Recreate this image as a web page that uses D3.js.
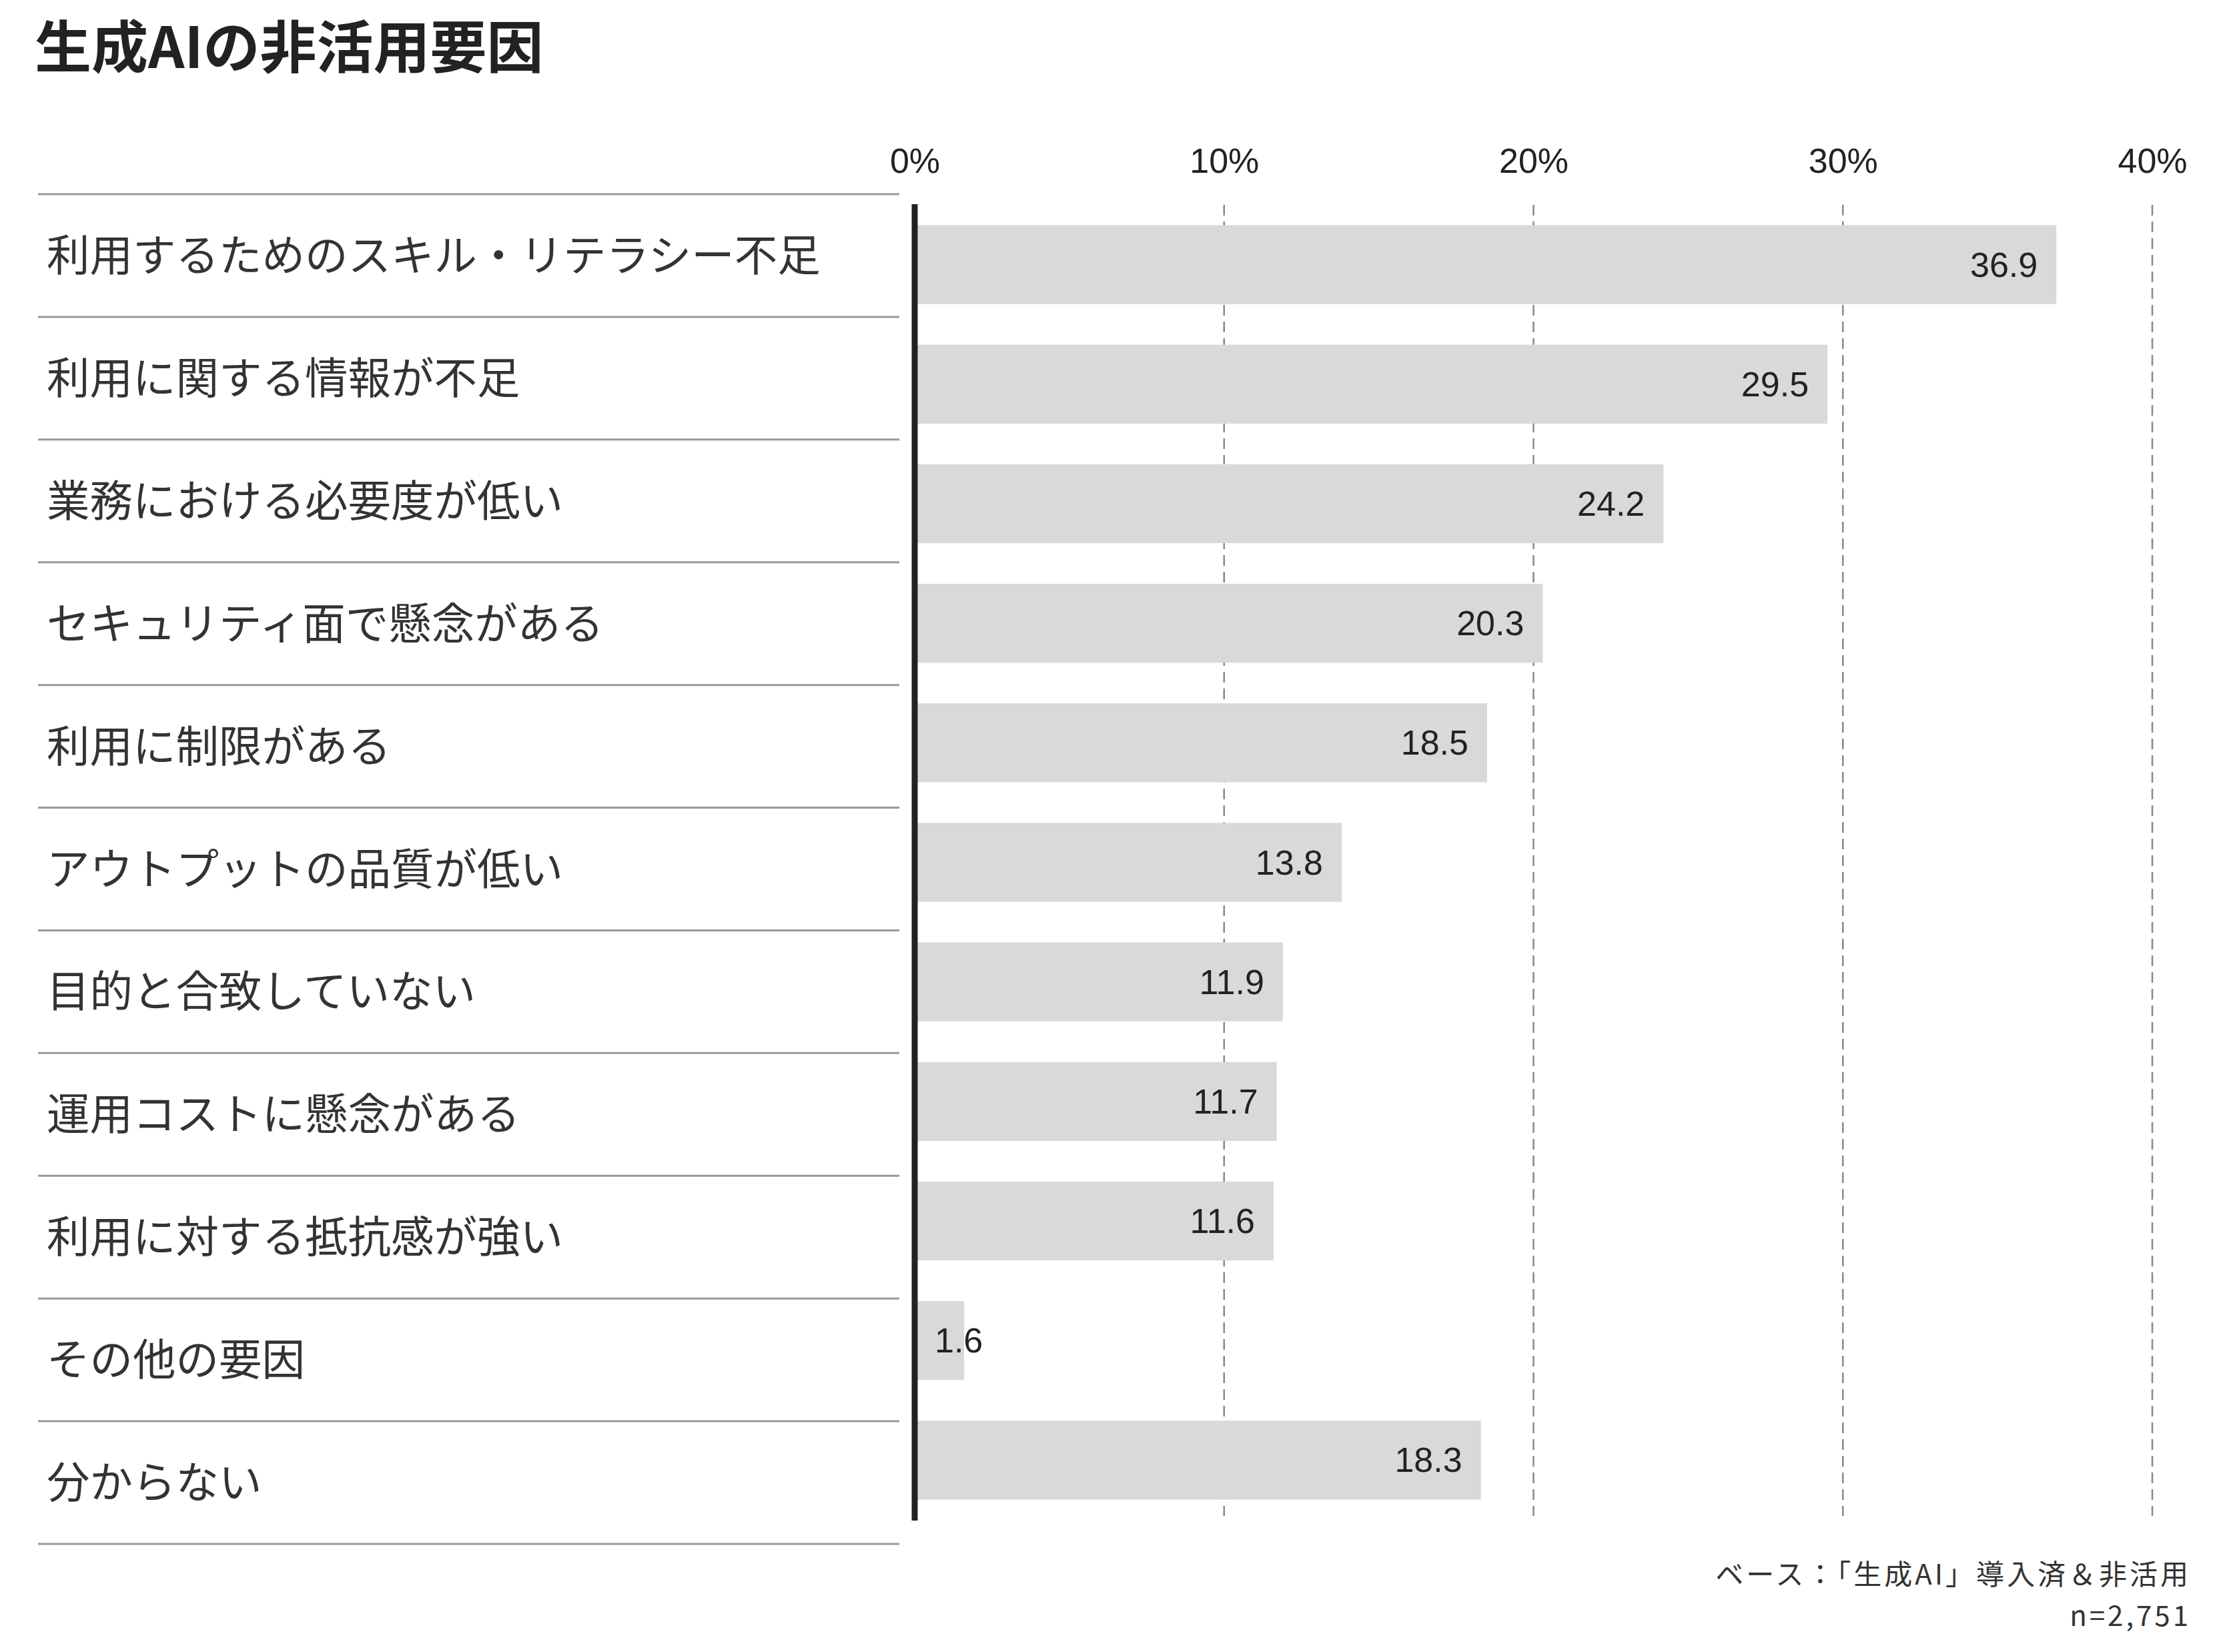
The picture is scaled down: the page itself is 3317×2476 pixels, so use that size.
<!DOCTYPE html>
<html>
<head>
<meta charset="utf-8">
<script src="https://cdn.jsdelivr.net/npm/d3@7"></script>
<style>
  body { margin: 0; background: #fff; }
  svg { display: block; }
</style>
</head>
<body>
<svg width="3317" height="2476"></svg>
<script>
// data
const categories = [
    '利用するためのスキル・リテラシー不足',
    '利用に関する情報が不足',
    '業務における必要度が低い',
    'セキュリティ面で懸念がある',
    '利用に制限がある',
    'アウトプットの品質が低い',
    '目的と合致していない',
    '運用コストに懸念がある',
    '利用に対する抵抗感が強い',
    'その他の要因',
    '分からない'
];
const values = [36.9, 29.5, 24.2, 20.3, 18.5, 13.8, 11.9, 11.7, 11.6, 1.6, 18.3];
const ticks = [0, 10, 20, 30, 40];
const title = '生成AIの非活用要因';
const notes = ['ベース：「生成AI」導入済＆非活用', 'n=2,751'];

const jp = '"Noto Sans CJK JP", "Noto Sans", sans-serif';
const num = '"Liberation Sans", Arial, sans-serif';

const svg = d3.select('svg');

svg.append('rect')
    .attr('width', 3317)
    .attr('height', 2476)
    .attr('fill', '#fff');

// scales
const x = d3.scaleLinear().domain([0, 40]).range([1371, 3226]);
const rows = d3.scaleBand().domain(categories).range([291, 2314]);
const y = d3.scaleBand().domain(categories).range([307, 2278])
    .paddingInner(0.34)
    .paddingOuter(0.17);

// title
svg.append('text')
    .attr('x', 52)
    .attr('y', 64)
    .attr('dominant-baseline', 'central')
    .attr('font-family', jp)
    .attr('font-weight', 700)
    .attr('font-size', 85)
    .attr('fill', '#222')
    .text(title);

// row separators
const seps = rows.domain().map(d => rows(d)).concat([rows.range()[1]]);
svg.selectAll('line.sep')
    .data(seps)
    .enter()
    .append('line')
    .attr('class', 'sep')
    .attr('x1', 57)
    .attr('x2', 1348)
    .attr('y1', d => d)
    .attr('y2', d => d)
    .attr('stroke', '#999')
    .attr('stroke-width', 3);

// category labels
svg.selectAll('text.cat')
    .data(categories)
    .enter()
    .append('text')
    .attr('class', 'cat')
    .attr('x', 70)
    .attr('y', d => rows(d) + rows.bandwidth() / 2 - 5)
    .attr('dominant-baseline', 'central')
    .attr('font-family', jp)
    .attr('font-size', 64.5)
    .attr('fill', '#333')
    .text(d => d);

// dashed grid
svg.selectAll('line.grid')
    .data(ticks.filter(t => t > 0))
    .enter()
    .append('line')
    .attr('class', 'grid')
    .attr('x1', d => x(d))
    .attr('x2', d => x(d))
    .attr('y1', 307)
    .attr('y2', 2272)
    .attr('stroke', '#888')
    .attr('stroke-width', 2.5)
    .attr('stroke-dasharray', '16,9');

// top axis labels
const axis = svg.append('g')
    .attr('transform', 'translate(0,259)')
    .call(d3.axisTop(x).tickValues(ticks).tickSize(0).tickPadding(0).tickFormat(d => d + '%'));
axis.select('.domain').remove();
axis.selectAll('text')
    .attr('font-family', num)
    .attr('font-size', 52)
    .attr('fill', '#222');

// bars
svg.selectAll('rect.bar')
    .data(values)
    .enter()
    .append('rect')
    .attr('class', 'bar')
    .attr('x', x(0))
    .attr('y', (d, i) => y(categories[i]))
    .attr('width', d => x(d) - x(0))
    .attr('height', y.bandwidth())
    .attr('fill', '#d9d9d9');

// value labels
svg.selectAll('text.val')
    .data(values)
    .enter()
    .append('text')
    .attr('class', 'val')
    .attr('x', d => d < 5 ? x(0) + 30 : x(d) - 28)
    .attr('y', (d, i) => y(categories[i]) + y.bandwidth() / 2)
    .attr('text-anchor', d => d < 5 ? 'start' : 'end')
    .attr('dominant-baseline', 'central')
    .attr('font-family', num)
    .attr('font-size', 52)
    .attr('fill', '#222')
    .text(d => d.toFixed(1));

// zero axis line
svg.append('line')
    .attr('x1', x(0))
    .attr('x2', x(0))
    .attr('y1', 306)
    .attr('y2', 2279)
    .attr('stroke', '#222')
    .attr('stroke-width', 9);

// footnote
svg.selectAll('text.note')
    .data(notes)
    .enter()
    .append('text')
    .attr('class', 'note')
    .attr('x', 3284)
    .attr('y', (d, i) => 2356 + i * 62)
    .attr('text-anchor', 'end')
    .attr('dominant-baseline', 'central')
    .attr('font-family', jp)
    .attr('font-size', 42)
    .attr('letter-spacing', 4)
    .attr('fill', '#333')
    .text(d => d);
</script>
</body>
</html>
